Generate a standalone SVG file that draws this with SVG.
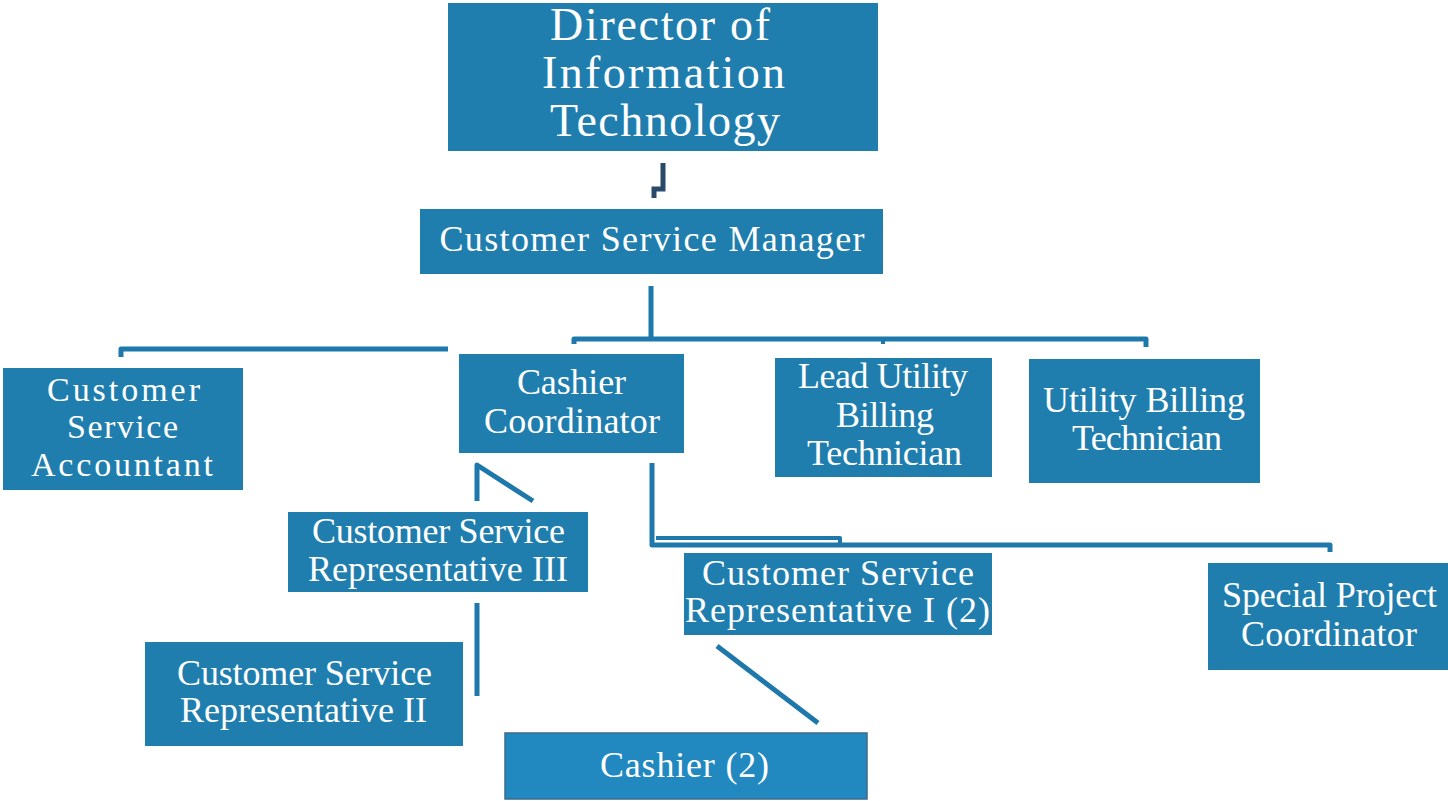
<svg xmlns="http://www.w3.org/2000/svg" width="1448" height="801" viewBox="0 0 1448 801">
  <defs>
    <style>
      .box { fill: #1f7eae; }
      .box-alt { fill: #2288c0; stroke: #3d6b8a; stroke-width: 1.5; }
      .lbl { font-family: "Liberation Serif", "DejaVu Serif", serif; fill: #ffffff; text-anchor: middle; font-size: 36px; }
      .lbl-lg { font-size: 46px; }
      .lbl-sm { font-size: 34px; }
      .wire { fill: none; stroke: #1f78ab; stroke-width: 5; stroke-linejoin: round; }
      .wire-thin { fill: none; stroke: #1f78ab; stroke-width: 4; stroke-linejoin: round; }
      .wire-dark { fill: none; stroke: #2a4a6a; stroke-width: 5; }
    </style>
  </defs>

  <rect width="1448" height="801" fill="#ffffff"/>

  <!-- connectors -->
  <g id="connectors">
    <path class="wire-dark" d="M663,163 V189 H654 V198"/>
    <path class="wire" d="M651,286 V339"/>
    <path class="wire" d="M574,344 V339 H1146 V347"/>
    <path class="wire-thin" d="M883,339 V344"/>
    <path class="wire" d="M121,357 V349 H448"/>
    <path class="wire" d="M477,501 V465 L533,501"/>
    <path class="wire" d="M477,603 V696"/>
    <path class="wire" d="M652,463 V545 H1330 V552"/>
    <path class="wire-thin" d="M656,538 H840 V544"/>
    <path class="wire" d="M717,646 L818,723"/>
  </g>

  <!-- nodes -->
  <g id="director">
    <rect class="box" x="448" y="3" width="430" height="148"/>
    <text class="lbl lbl-lg" x="660" y="40" textLength="220" lengthAdjust="spacing">Director of</text>
    <text class="lbl lbl-lg" x="663.5" y="88" textLength="243" lengthAdjust="spacing">Information</text>
    <text class="lbl lbl-lg" x="665" y="136" textLength="230" lengthAdjust="spacing">Technology</text>
  </g>

  <g id="cs-manager">
    <rect class="box" x="420" y="209" width="463" height="65"/>
    <text class="lbl" x="652" y="251" textLength="425" lengthAdjust="spacing">Customer Service Manager</text>
  </g>

  <g id="cs-accountant">
    <rect class="box" x="3" y="368" width="240" height="122"/>
    <text class="lbl lbl-sm" x="123.5" y="401" textLength="153" lengthAdjust="spacing">Customer</text>
    <text class="lbl lbl-sm" x="122.5" y="438" textLength="111" lengthAdjust="spacing">Service</text>
    <text class="lbl lbl-sm" x="122" y="476" textLength="182" lengthAdjust="spacing">Accountant</text>
  </g>

  <g id="cashier-coordinator">
    <rect class="box" x="459" y="354" width="225" height="99"/>
    <text class="lbl" x="571.5" y="394" textLength="109" lengthAdjust="spacing">Cashier</text>
    <text class="lbl" x="572" y="433" textLength="176" lengthAdjust="spacing">Coordinator</text>
  </g>

  <g id="lead-ubt">
    <rect class="box" x="775" y="358" width="217" height="119"/>
    <text class="lbl" x="883" y="388" textLength="170" lengthAdjust="spacing">Lead Utility</text>
    <text class="lbl" x="885" y="427" textLength="98" lengthAdjust="spacing">Billing</text>
    <text class="lbl" x="884.5" y="465" textLength="155" lengthAdjust="spacing">Technician</text>
  </g>

  <g id="ubt">
    <rect class="box" x="1029" y="359" width="231" height="124"/>
    <text class="lbl" x="1144" y="412" textLength="202" lengthAdjust="spacing">Utility Billing</text>
    <text class="lbl" x="1147" y="450" textLength="150" lengthAdjust="spacing">Technician</text>
  </g>

  <g id="csr-3">
    <rect class="box" x="288" y="512" width="300" height="80"/>
    <text class="lbl" x="438.5" y="543" textLength="253" lengthAdjust="spacing">Customer Service</text>
    <text class="lbl" x="438" y="581" textLength="260" lengthAdjust="spacing">Representative III</text>
  </g>

  <g id="csr-2">
    <rect class="box" x="145" y="642" width="318" height="104"/>
    <text class="lbl" x="304.5" y="685" textLength="255" lengthAdjust="spacing">Customer Service</text>
    <text class="lbl" x="303.5" y="722" textLength="247" lengthAdjust="spacing">Representative II</text>
  </g>

  <g id="csr-1">
    <rect class="box" x="684" y="553" width="308" height="82"/>
    <text class="lbl" x="838" y="585" textLength="272" lengthAdjust="spacing">Customer Service</text>
    <text class="lbl" x="837.5" y="622" textLength="305" lengthAdjust="spacing">Representative I (2)</text>
  </g>

  <g id="special-project">
    <rect class="box" x="1208" y="563" width="240" height="107"/>
    <text class="lbl" x="1329.5" y="607" textLength="215" lengthAdjust="spacing">Special Project</text>
    <text class="lbl" x="1329" y="646" textLength="176" lengthAdjust="spacing">Coordinator</text>
  </g>

  <g id="cashier">
    <rect class="box-alt" x="505" y="733" width="362" height="66"/>
    <text class="lbl" x="684.5" y="777" textLength="169" lengthAdjust="spacing">Cashier (2)</text>
  </g>
</svg>
